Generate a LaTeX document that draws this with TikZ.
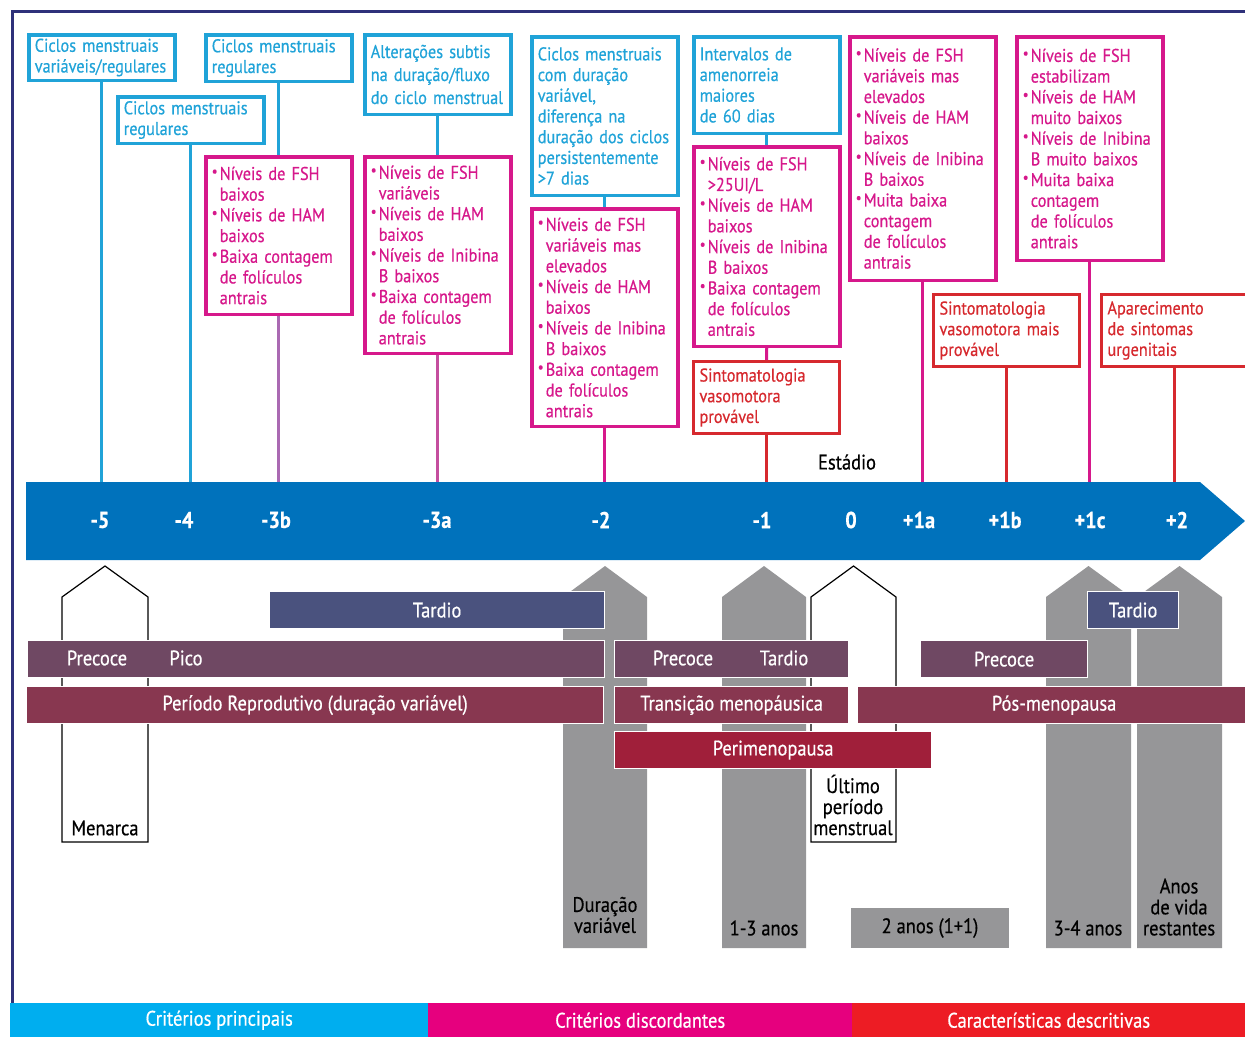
\documentclass[tikz,border=0pt]{standalone}
\usepackage{fontspec}
\setmainfont[FakeStretch=0.88, FakeBold=0.5]{PT Sans}
\definecolor{critCyan}{RGB}{32,163,216}
\definecolor{discMagenta}{RGB}{214,24,139}
\definecolor{descRed}{RGB}{214,41,46}
\definecolor{stageBlue}{RGB}{0,114,188}
\definecolor{frameNavy}{RGB}{46,49,122}
\definecolor{lineMauve}{RGB}{170,105,178}
\definecolor{lineOrchid}{RGB}{196,78,158}
\definecolor{barSlate}{RGB}{74,82,126}
\definecolor{barPlum}{RGB}{111,72,99}
\definecolor{barWine}{RGB}{136,55,80}
\definecolor{barCrimson}{RGB}{160,31,58}
\definecolor{spanGray}{RGB}{150,150,152}
\definecolor{footCyan}{RGB}{0,174,239}
\definecolor{footMagenta}{RGB}{230,0,126}
\definecolor{footRed}{RGB}{237,28,36}
\usepackage{tikz}
\usetikzlibrary{positioning}

\newcommand{\boxfont}{\fontsize{18.5}{20.7}\selectfont\hyphenpenalty=10000 }
\newcommand{\barfont}{\fontsize{21}{21}\selectfont}
\newcommand{\blt}{\makebox[8pt][l]{\raisebox{0.2em}{\scalebox{0.8}{•}}}}
\newcommand{\bcn}{\hspace*{8pt}}

\tikzset{
  critbox/.style={draw=critCyan, line width=3.5pt, text=critCyan, anchor=north west,
    align=left, text width=134pt, inner xsep=6pt, inner ysep=2pt, font=\boxfont},
  discbox/.style={critbox, draw=discMagenta, text=discMagenta},
  descbox/.style={critbox, draw=descRed, text=descRed, line width=3pt},
  link/.style={line width=3pt},
  bar/.style={fill=#1, draw=white, line width=1.2pt, text=white, anchor=north west,
    inner sep=0pt, minimum height=37pt, font=\barfont},
  bartext/.style={text=white, font=\barfont},
  spanlabel/.style={align=center, font=\barfont, inner sep=0pt},
  stagelabel/.style={text=white, font=\fontsize{23}{26}\selectfont\bfseries},
  foot/.style={fill=#1, text=white, anchor=north west, inner sep=0pt,
    minimum height=34pt, font=\barfont}
}

\begin{document}
\begin{tikzpicture}[x=1pt, y=-1pt]
        \useasboundingbox (0,0) rectangle (1245,1037);

        % Frame
        \draw[frameNavy, line width=3pt] (12,1003) -- (12,11) -- (1246,11);

        % Stage arrow
        \fill[stageBlue] (26,482) -- (1200,482) -- (1245,521) -- (1200,560) -- (26,560) -- cycle;
        \coordinate (atop) at (600,482);
        \foreach \x/\s in {100/-5, 184/-4, 276/-3b, 437/-3a, 601/-2, 762/-1, 851/0,
                           919/+1a, 1005/+1b, 1090/+1c, 1177/+2} {
          \node[stagelabel] (st\x) at (\x,520) {\s};
        }
        \node[font=\barfont] (estadio) at (847,462) {Estádio};

        % Main criteria
        \node[critbox, minimum height=45.5pt] (cicVar) at (27,33) {Ciclos menstruais\\variáveis/regulares};
        \node[critbox, minimum height=46.5pt] (cicReg4) at (116,95) {Ciclos menstruais\\regulares};
        \node[critbox, minimum height=46.5pt] (cicReg3b) at (204,33) {Ciclos menstruais\\regulares};
        \node[critbox, minimum height=79.5pt, font=\fontsize{18.5}{23}\selectfont] (altSub) at (363,33) {Alterações subtis\\na duração/fluxo\\do ciclo menstrual};
        \node[critbox, minimum height=158.5pt] (cicDur) at (530,35) {Ciclos menstruais\\com duração\\variável,\\diferença na\\duração dos ciclos\\persistentemente\\>7 dias};
        \node[critbox, minimum height=96.5pt] (interv) at (692,35) {Intervalos de\\amenorreia\\maiores\\de 60 dias};

        % Discordant criteria
        \node[discbox, minimum height=157.5pt] (fsh3b) at (204,155) {\blt Níveis de FSH\\\bcn baixos\\\blt Níveis de HAM\\\bcn baixos\\\blt Baixa contagem\\\bcn de folículos\\\bcn antrais};
        \node[discbox, minimum height=196.5pt] (fsh3a) at (363,155) {\blt Níveis de FSH\\\bcn variáveis\\\blt Níveis de HAM\\\bcn baixos\\\blt Níveis de Inibina\\\bcn B baixos\\\blt Baixa contagem\\\bcn de folículos\\\bcn antrais};
        \node[discbox, minimum height=217.5pt] (fsh2) at (530,207) {\blt Níveis de FSH\\\bcn variáveis mas\\\bcn elevados\\\blt Níveis de HAM\\\bcn baixos\\\blt Níveis de Inibina\\\bcn B baixos\\\blt Baixa contagem\\\bcn de folículos\\\bcn antrais};
        \node[discbox, minimum height=199.5pt] (fsh1) at (692,145) {\blt Níveis de FSH\\\bcn >25UI/L\\\blt Níveis de HAM\\\bcn baixos\\\blt Níveis de Inibina\\\bcn B baixos\\\blt Baixa contagem\\\bcn de folículos\\\bcn antrais};
        \node[discbox, minimum height=243.5pt] (fsh1a) at (848,35) {\blt Níveis de FSH\\\bcn variáveis mas\\\bcn elevados\\\blt Níveis de HAM\\\bcn baixos\\\blt Níveis de Inibina\\\bcn B baixos\\\blt Muita baixa\\\bcn contagem\\\bcn de folículos\\\bcn antrais};
        \node[discbox, minimum height=223.5pt] (fsh1c) at (1015,35) {\blt Níveis de FSH\\\bcn estabilizam\\\blt Níveis de HAM\\\bcn muito baixos\\\blt Níveis de Inibina\\\bcn B muito baixos\\\blt Muita baixa\\\bcn contagem\\\bcn de folículos\\\bcn antrais};

        % Descriptive characteristics
        \node[descbox, minimum height=72pt] (vaso1) at (692,360) {Sintomatologia\\vasomotora\\provável};
        \node[descbox, minimum height=72pt] (vaso1b) at (932,293) {Sintomatologia\\vasomotora mais\\provável};
        \node[descbox, minimum height=72pt] (urog) at (1100,293) {Aparecimento\\de sintomas\\urgenitais};

        % Links to the stages
        \draw[link, critCyan] (cicVar.south) -- (cicVar.south |- atop);
        \draw[link, critCyan] (cicReg4.south) -- (cicReg4.south |- atop);
        \draw[link, critCyan] (cicReg3b.south) -- (fsh3b.north);
        \draw[link, lineMauve] (fsh3b.south) -- (fsh3b.south |- atop);
        \draw[link, critCyan] (altSub.south) -- (fsh3a.north);
        \draw[link, lineOrchid] (fsh3a.south) -- (fsh3a.south |- atop);
        \draw[link, critCyan] (cicDur.south) -- (fsh2.north);
        \draw[link, discMagenta] (fsh2.south) -- (fsh2.south |- atop);
        \draw[link, critCyan] (interv.south) -- (fsh1.north);
        \draw[link, discMagenta] (fsh1.south) -- (vaso1.north);
        \draw[link, descRed] (vaso1.south) -- (vaso1.south |- atop);
        \draw[link, discMagenta] (fsh1a.south) -- (fsh1a.south |- atop);
        \draw[link, descRed] (vaso1b.south) -- (vaso1b.south |- atop);
        \draw[link, discMagenta] (fsh1c.south) -- (fsh1c.south |- atop);
        \draw[link, descRed] (urog.south) -- (urog.south |- atop);

        % Events (outlined) and durations (gray)
        \foreach \xl/\xr in {62/148, 811/896} {
          \filldraw[fill=white, draw=black, line width=1.2pt]
            (\xl,842) -- (\xl,597) -- ({(\xl+\xr)/2},566) -- (\xr,597) -- (\xr,842) -- cycle;
        }
        \foreach \xl/\xr in {563/647, 722/806, 1046/1131, 1137/1222} {
          \fill[spanGray] (\xl,948) -- (\xl,597) -- ({(\xl+\xr)/2},566) -- (\xr,597) -- (\xr,948) -- cycle;
        }
        \fill[spanGray] (851,908) rectangle (1009,948);

        % Periods
        \node[bar=barSlate, minimum width=335pt] (tardioRep) at (269,591) {Tardio};
        \node[bar=barPlum, minimum width=577pt] (picoRep) at (27,640) {};
        \node[bar=barWine, minimum width=577pt] (periodo) at (26,686) {Período Reprodutivo (duração variável)};
        \node[bar=barPlum, minimum width=234pt] (faseTrans) at (614,640) {};
        \node[bar=barWine, minimum width=234pt] (transicao) at (614,686) {Transição menopáusica};
        \node[bar=barCrimson, minimum width=317pt] (perimeno) at (614,731) {Perimenopausa};
        \node[bar=barPlum, minimum width=167pt] (precPos) at (920,640) {Precoce};
        \node[bar=barSlate, minimum width=91pt] (tardioPos) at (1087,591) {Tardio};
        \node[bar=barWine, minimum width=393pt] (posMeno) at (857,686) {Pós-menopausa};
        \node[bartext] (lblPrecRep) at (97,658) {Precoce};
        \node[bartext] (lblPico) at (186,658) {Pico};
        \node[bartext] (lblPrecTr) at (683,658) {Precoce};
        \node[bartext] (lblTardTr) at (784,658) {Tardio};

        % Span labels
        \node[spanlabel] (menarca) at (105,828) {Menarca};
        \node[spanlabel] (ultimo) at (853,805) {Último\\período\\menstrual};
        \node[spanlabel] (durVar) at (605,915) {Duração\\variável};
        \node[spanlabel] (anos13) at (764,928) {1-3 anos};
        \node[spanlabel] (anos2) at (930,928) {2 anos (1+1)};
        \node[spanlabel] (anos34) at (1088,928) {3-4 anos};
        \node[spanlabel] (anosVida) at (1179,907) {Anos\\de vida\\restantes};

        % Legend
        \node[foot=footCyan, minimum width=418pt] (legCrit) at (10,1003) {Critérios principais};
        \node[foot=footMagenta, minimum width=424pt] (legDisc) at (428,1003) {Critérios discordantes};
        \node[foot=footRed, minimum width=393pt] (legDesc) at (852,1003) {Características descritivas};
      \end{tikzpicture}
\end{document}
